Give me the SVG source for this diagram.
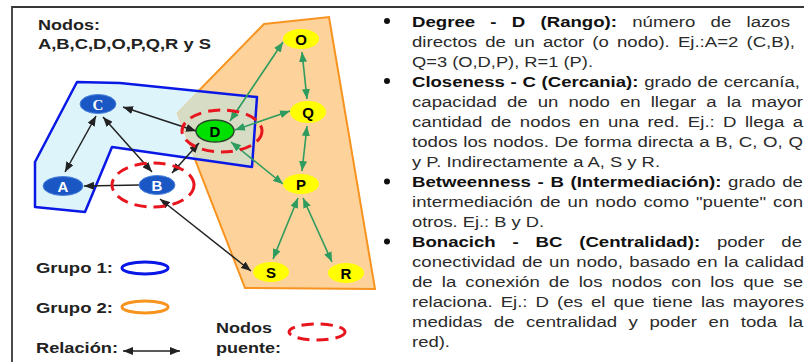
<svg xmlns="http://www.w3.org/2000/svg" width="804" height="362" viewBox="0 0 804 362">
<style>
.lbl{font-family:"Liberation Sans",Arial,sans-serif;font-weight:700;font-size:15px;fill:#222}
.nl{font-family:"Liberation Sans",Arial,sans-serif;font-weight:700;font-size:15px;text-anchor:middle}
.body{font-family:"Liberation Sans",Arial,sans-serif;font-size:15.5px;fill:#2b2b2b}
.b{font-weight:700;fill:#111}
.blk{stroke:#222;stroke-width:1.5;fill:none}
.grn{stroke:#2E9C5E;stroke-width:1.6;fill:none}
.bridge{fill:none;stroke:#E8141E;stroke-width:3;stroke-dasharray:12 7}
.bn{fill:#1B57C4;stroke:#4A82DC;stroke-width:1}
.yn{fill:#FFFF00}
</style>
<defs>
<marker id="ak" viewBox="0 0 10 8" refX="10" refY="4" markerWidth="10" markerHeight="8" markerUnits="userSpaceOnUse" orient="auto-start-reverse"><path d="M0,0 L10,4 L0,8 z" fill="#222"/></marker>
<marker id="ag" viewBox="0 0 10 8" refX="10" refY="4" markerWidth="10" markerHeight="8" markerUnits="userSpaceOnUse" orient="auto-start-reverse"><path d="M0,0 L10,4 L0,8 z" fill="#2E9C5E"/></marker>
<clipPath id="clipBlue"><polygon points="77,82 120,83 257,97 252,167 112,147 85,212 35,207 35,162"/></clipPath>
</defs>
<rect width="804" height="362" fill="#fff"/>
<path d="M12,362 L12,7 L804,7" fill="none" stroke="#383838" stroke-width="1.8"/>

<g id="group2">
<polygon points="264,24 329,17 375,289 245,288 177,113" fill="#FDD39B" stroke="#F7931E" stroke-width="2"/>
</g>
<g id="group1">
<polygon points="77,82 120,83 257,97 252,167 112,147 85,212 35,207 35,162" fill="#DDF4FA"/>
<polygon points="264,24 329,17 375,289 245,288 177,113" fill="#D7DCC5" stroke="#EBCFA8" stroke-width="1" clip-path="url(#clipBlue)"/>
<polygon points="77,82 120,83 257,97 252,167 112,147 85,212 35,207 35,162" fill="none" stroke="#0A18E6" stroke-width="2.5" stroke-linejoin="round"/>
</g>

<g id="titleNodes">
<text class="lbl" x="38" y="30" textLength="62" lengthAdjust="spacingAndGlyphs">Nodos:</text>
<text class="lbl" x="38" y="49" textLength="173" lengthAdjust="spacingAndGlyphs">A,B,C,D,O,P,Q,R y S</text>
</g>

<g id="connectors">
<line class="blk" x1="123" y1="107" x2="196" y2="131" marker-start="url(#ak)" marker-end="url(#ak)"/>
<line class="blk" x1="96" y1="116" x2="65" y2="172" marker-start="url(#ak)" marker-end="url(#ak)"/>
<line class="blk" x1="103" y1="117" x2="152" y2="172" stroke="#555" marker-start="url(#ak)" marker-end="url(#ak)"/>
<line class="blk" x1="140" y1="185" x2="84" y2="186" marker-end="url(#ak)"/>
<line class="blk" x1="172" y1="173" x2="199" y2="143" marker-start="url(#ak)" marker-end="url(#ak)"/>
<line class="blk" x1="160" y1="199" x2="251" y2="271" marker-start="url(#ak)" marker-end="url(#ak)"/>
<line class="grn" x1="283" y1="42" x2="230" y2="121" marker-start="url(#ag)" marker-end="url(#ag)"/>
<line class="grn" x1="302" y1="52" x2="307" y2="99" marker-start="url(#ag)" marker-end="url(#ag)"/>
<line class="grn" x1="290" y1="111" x2="235" y2="130" marker-start="url(#ag)" marker-end="url(#ag)"/>
<line class="grn" x1="307" y1="126" x2="302" y2="171" marker-start="url(#ag)" marker-end="url(#ag)"/>
<line class="grn" x1="231" y1="142" x2="283" y2="184" marker-start="url(#ag)" marker-end="url(#ag)"/>
<line class="grn" x1="298" y1="198" x2="273" y2="259" marker-start="url(#ag)" marker-end="url(#ag)"/>
<line class="grn" x1="303" y1="198" x2="332" y2="262" marker-start="url(#ag)" marker-end="url(#ag)"/>
</g>

<g id="node-C"><ellipse class="bn" cx="98" cy="104" rx="18" ry="9.5"/><text class="nl" x="98" y="109.5" fill="#fff" style="font-family:'Liberation Serif',serif">C</text></g>
<g id="node-A"><ellipse class="bn" cx="63" cy="186" rx="20" ry="9.5"/><text class="nl" x="63" y="191.5" fill="#fff">A</text></g>
<g id="node-B"><ellipse class="bn" cx="157" cy="185" rx="18" ry="9.5"/><text class="nl" x="157" y="190.5" fill="#fff">B</text></g>
<g id="node-D"><ellipse cx="215" cy="131" rx="19" ry="11" fill="#00E000" stroke="#2a4a2a" stroke-width="1.5"/><text class="nl" x="215" y="136.5" fill="#000">D</text></g>
<g id="node-O"><ellipse class="yn" cx="301" cy="39" rx="18" ry="10"/><text class="nl" x="301" y="44.5" fill="#000">O</text></g>
<g id="node-Q"><ellipse class="yn" cx="308" cy="112" rx="18" ry="11"/><text class="nl" x="308" y="117.5" fill="#000">Q</text></g>
<g id="node-P"><ellipse class="yn" cx="301" cy="184" rx="18" ry="10"/><text class="nl" x="301" y="189.5" fill="#000">P</text></g>
<g id="node-S"><ellipse class="yn" cx="271" cy="272" rx="18" ry="10"/><text class="nl" x="271" y="277.5" fill="#000">S</text></g>
<g id="node-R"><ellipse class="yn" cx="346" cy="273" rx="18" ry="10"/><text class="nl" x="346" y="278.5" fill="#000">R</text></g>

<g id="bridges">
<ellipse class="bridge" cx="222" cy="131" rx="40" ry="21"/>
<ellipse class="bridge" cx="153" cy="185" rx="41" ry="22"/>
</g>

<g id="legend">
<text class="lbl" x="36" y="273" textLength="77" lengthAdjust="spacingAndGlyphs">Grupo 1:</text>
<ellipse cx="145" cy="268" rx="23" ry="6" fill="none" stroke="#0A18E6" stroke-width="3"/>
<text class="lbl" x="36" y="313" textLength="77" lengthAdjust="spacingAndGlyphs">Grupo 2:</text>
<ellipse cx="145" cy="307" rx="23" ry="6" fill="none" stroke="#F7941D" stroke-width="3"/>
<text class="lbl" x="36" y="353" textLength="82" lengthAdjust="spacingAndGlyphs">Relación:</text>
<line class="blk" x1="123" y1="351" x2="180" y2="351" marker-start="url(#ak)" marker-end="url(#ak)"/>
<text class="lbl" x="216" y="332.5" textLength="56" lengthAdjust="spacingAndGlyphs">Nodos</text>
<text class="lbl" x="216" y="352.5" textLength="65" lengthAdjust="spacingAndGlyphs">puente:</text>
<ellipse class="bridge" cx="317" cy="332" rx="28" ry="8"/>
</g>

<g id="definitions">
<circle cx="387" cy="21" r="3" fill="#111"/>
<circle cx="387" cy="81" r="3" fill="#111"/>
<circle cx="387" cy="181.5" r="3" fill="#111"/>
<circle cx="387" cy="241.5" r="3" fill="#111"/>
<text class="body" x="412" y="26.5" word-spacing="8.4" textLength="378" lengthAdjust="spacingAndGlyphs"><tspan class="b">Degree - D (Rango):</tspan> número de lazos</text>
<text class="body" x="412" y="46.5" word-spacing="2.5" textLength="383" lengthAdjust="spacingAndGlyphs">directos de un actor (o nodo). Ej.:A=2 (C,B),</text>
<text class="body" x="412" y="66.6" textLength="181" lengthAdjust="spacingAndGlyphs">Q=3 (O,D,P), R=1 (P).</text>
<text class="body" x="412" y="86.6" word-spacing="0.5" textLength="388" lengthAdjust="spacingAndGlyphs"><tspan class="b">Closeness - C (Cercania):</tspan> grado de cercanía,</text>
<text class="body" x="412" y="106.7" word-spacing="4.1" textLength="391" lengthAdjust="spacingAndGlyphs">capacidad de un nodo en llegar a la mayor</text>
<text class="body" x="412" y="126.7" word-spacing="2.7" textLength="391" lengthAdjust="spacingAndGlyphs">cantidad de nodos en una red. Ej.: D llega a</text>
<text class="body" x="412" y="146.8" word-spacing="0.5" textLength="391" lengthAdjust="spacingAndGlyphs">todos los nodos. De forma directa a B, C, O, Q</text>
<text class="body" x="412" y="166.8" textLength="248" lengthAdjust="spacingAndGlyphs">y P. Indirectamente a A, S y R.</text>
<text class="body" x="412" y="186.9" word-spacing="1.2" textLength="391" lengthAdjust="spacingAndGlyphs"><tspan class="b">Betweenness - B (Intermediación):</tspan> grado de</text>
<text class="body" x="412" y="206.9" word-spacing="1.5" textLength="391" lengthAdjust="spacingAndGlyphs">intermediación de un nodo como "puente" con</text>
<text class="body" x="412" y="227" textLength="132" lengthAdjust="spacingAndGlyphs">otros. Ej.: B y D.</text>
<text class="body" x="412" y="247" word-spacing="9.7" textLength="390" lengthAdjust="spacingAndGlyphs"><tspan class="b">Bonacich - BC (Centralidad):</tspan> poder de</text>
<text class="body" x="412" y="267.1" word-spacing="1.1" textLength="392" lengthAdjust="spacingAndGlyphs">conectividad de un nodo, basado en la calidad</text>
<text class="body" x="412" y="287.1" word-spacing="3.3" textLength="391" lengthAdjust="spacingAndGlyphs">de la conexión de los nodos con los que se</text>
<text class="body" x="412" y="307.2" word-spacing="2.4" textLength="392" lengthAdjust="spacingAndGlyphs">relaciona. Ej.: D (es el que tiene las mayores</text>
<text class="body" x="412" y="327.2" word-spacing="5.3" textLength="391" lengthAdjust="spacingAndGlyphs">medidas de centralidad y poder en toda la</text>
<text class="body" x="412" y="347.3" textLength="38" lengthAdjust="spacingAndGlyphs">red).</text>
</g>
</svg>
